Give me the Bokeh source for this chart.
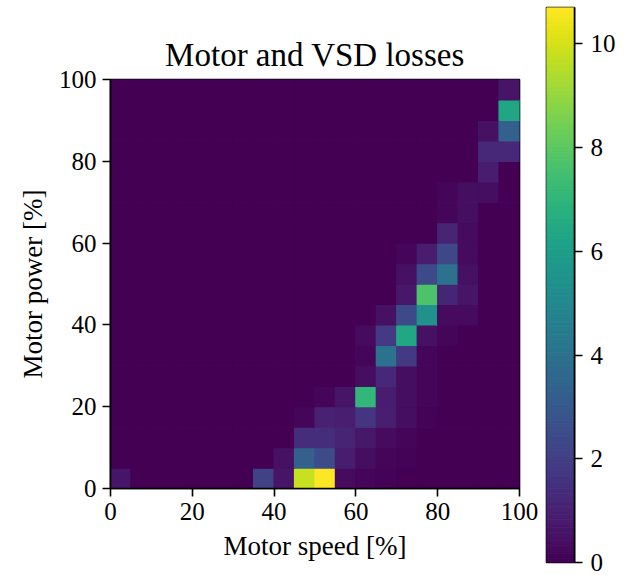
import numpy as np
from bokeh.plotting import figure
from bokeh.models import Range1d, FixedTicker, LinearColorMapper, ColumnDataSource
from bokeh.transform import transform
from bokeh.palettes import Viridis256
from bokeh.layouts import row
from bokeh.embed import file_html
from bokeh.resources import INLINE

# ---- data -------------------------------------------------------------
bin_edges = [0, 5, 10, 15, 20, 25, 30, 35, 40, 45, 50, 55, 60, 65, 70, 75, 80, 85, 90, 95]
bin_width = 5

# non-zero cells: speed bin start [%], power bin start [%], loss
cell_speed = [0, 35, 40, 45, 50, 55, 60, 65,
              40, 45, 50, 55, 60, 65, 70,
              45, 50, 55, 60, 65, 70,
              45, 50, 55, 60, 65, 70, 75,
              50, 55, 60, 65, 70, 75,
              60, 65, 70, 75,
              60, 65, 70, 75,
              60, 65, 70, 75, 80,
              65, 70, 75, 80, 85,
              70, 75, 80, 85,
              70, 75, 80, 85,
              70, 75, 80, 85,
              80, 85,
              80, 85,
              80, 85, 90,
              90,
              90, 95,
              90, 95,
              95,
              95]
cell_power = [0, 0, 0, 0, 0, 0, 0, 0,
              5, 5, 5, 5, 5, 5, 5,
              10, 10, 10, 10, 10, 10,
              15, 15, 15, 15, 15, 15, 15,
              20, 20, 20, 20, 20, 20,
              25, 25, 25, 25,
              30, 30, 30, 30,
              35, 35, 35, 35, 35,
              40, 40, 40, 40, 40,
              45, 45, 45, 45,
              50, 50, 50, 50,
              55, 55, 55, 55,
              60, 60,
              65, 65,
              70, 70, 70,
              75,
              80, 80,
              85, 85,
              90,
              95]
cell_loss = [0.6, 2.1, 0.6, 9.8, 10.7, 0.3, 0.15, 0.1,
             0.5, 3.3, 2.5, 0.8, 0.4, 0.2, 0.1,
             1.4, 1.4, 1.1, 0.7, 0.3, 0.2,
             0.2, 1.0, 0.9, 1.6, 0.9, 0.4, 0.1,
             0.2, 0.6, 7.1, 0.8, 0.4, 0.15,
             0.4, 1.2, 0.4, 0.15,
             0.2, 4.0, 1.8, 0.2,
             0.3, 1.8, 6.4, 0.5, 0.2,
             0.5, 2.4, 5.4, 0.3, 0.3,
             0.7, 7.7, 1.1, 0.6,
             0.5, 2.4, 4.0, 0.5,
             0.2, 0.8, 2.3, 0.3,
             1.1, 0.3,
             0.2, 0.4,
             0.2, 0.4, 0.4,
             0.8,
             1.2, 1.2,
             0.5, 3.3,
             6.3,
             0.6]

axis_ticks = [0, 20, 40, 60, 80, 100]
cbar_ticks = [0, 2, 4, 6, 8, 10]
loss_max = 10.7

title_text = "Motor and VSD losses"
xlabel = "Motor speed [%]"
ylabel = "Motor power [%]"

FONT = "Liberation Serif"

# ---- full grid (zeros where no loss) ----------------------------------
lookup = {(s, pw): v for s, pw, v in zip(cell_speed, cell_power, cell_loss)}
xs, ys, vs = [], [], []
for pw in bin_edges:
    for s in bin_edges:
        xs.append(s + bin_width / 2)
        ys.append(pw + bin_width / 2)
        vs.append(lookup.get((s, pw), 0.0))
src = ColumnDataSource(dict(x=xs, y=ys, v=vs))
mapper = LinearColorMapper(palette=Viridis256, low=0, high=loss_max)

# ---- main heatmap ------------------------------------------------------
p = figure(width=543, height=575, output_backend="svg", toolbar_location=None,
           x_range=Range1d(0, 100), y_range=Range1d(0, 100),
           min_border_left=110, min_border_right=24, min_border_top=79, min_border_bottom=87,
           title=title_text)
p.frame_align = False
p.rect(x="x", y="y", width=bin_width, height=bin_width, source=src,
       fill_color=transform("v", mapper), line_color=transform("v", mapper), line_width=1.3)

p.grid.visible = False
p.outline_line_color = "black"
p.outline_line_width = 1.6
p.background_fill_color = "white"
p.border_fill_color = "white"

p.title.text_font = FONT
p.title.text_font_size = "33px"
p.title.text_font_style = "normal"
p.title.align = "center"
p.title.standoff = 13
p.title.text_color = "black"

for ax, lab in ((p.xaxis[0], xlabel), (p.yaxis[0], ylabel)):
    ax.ticker = FixedTicker(ticks=axis_ticks)
    ax.axis_label = lab
    ax.axis_label_text_font = FONT
    ax.axis_label_text_font_size = "27px"
    ax.axis_label_text_font_style = "normal"
    ax.axis_label_text_color = "black"
    ax.major_label_text_font = FONT
    ax.major_label_text_font_size = "25px"
    ax.major_label_text_color = "black"
    ax.major_tick_in = 0
    ax.major_tick_out = 8
    ax.major_tick_line_width = 1.6
    ax.major_tick_line_color = "black"
    ax.minor_tick_line_color = None
    ax.axis_line_color = "black"
    ax.axis_line_width = 1.6
    ax.major_label_standoff = 6
    ax.axis_label_standoff = 8

# ---- colour bar --------------------------------------------------------
levels = np.linspace(0, loss_max, 257)
cb_src = ColumnDataSource(dict(bottom=levels[:-1], top=levels[1:],
                               mid=(levels[:-1] + levels[1:]) / 2))
cb = figure(width=90, height=575, output_backend="svg", toolbar_location=None,
            x_range=Range1d(0, 1), y_range=Range1d(0, loss_max),
            x_axis_location=None, y_axis_location="right",
            min_border_left=3, min_border_right=59, min_border_top=7, min_border_bottom=13)
cb.frame_align = False
cb.quad(left=0, right=1, bottom="bottom", top="top", source=cb_src,
        fill_color=transform("mid", mapper), line_color=transform("mid", mapper), line_width=1.0)
cb.grid.visible = False
cb.outline_line_color = "black"
cb.outline_line_width = 1.6
cax = cb.yaxis[0]
cax.ticker = FixedTicker(ticks=cbar_ticks)
cax.major_label_text_font = FONT
cax.major_label_text_font_size = "25px"
cax.major_label_text_color = "black"
cax.major_tick_in = 0
cax.major_tick_out = 8
cax.major_tick_line_width = 1.6
cax.minor_tick_line_color = None
cax.axis_line_color = "black"
cax.axis_line_width = 1.6
cax.major_label_standoff = 8

layout = row(p, cb)
open("out.html", "w").write(file_html(layout, INLINE))
